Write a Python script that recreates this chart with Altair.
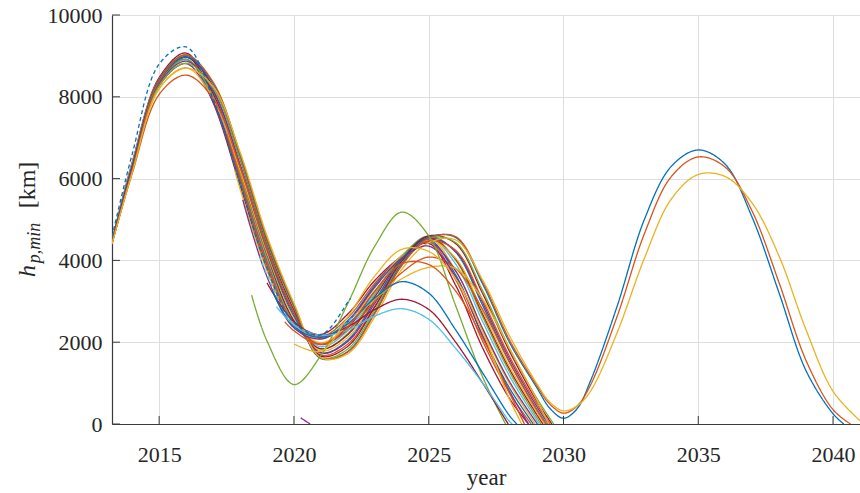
import math
import altair as alt
import pandas as pd

# MATLAB default colour order
BLUE, ORANGE, YELLOW, PURPLE = "#0072BD", "#D95319", "#EDB120", "#7E2F8E"
GREEN, CYAN, RED = "#77AC30", "#4DBEEE", "#A2142F"
AXIS_COLOR = "#3a3a3a"
TEXT_COLOR = "#262626"
FONT = "Liberation Serif, DejaVu Serif, serif"

X_TICKS = [2015, 2020, 2025, 2030, 2035, 2040]
Y_TICKS = [0, 2000, 4000, 6000, 8000, 10000]

# Minimum perigee altitude [km]; first sample at the given start year,
# then one sample per calendar year; the last pair is where a trace stops.
b00 = [4480, 6400, 8470, 9070, 7860, 5835, 3785, 2470, 2190, 2690, 3510, 4095, 4415, 3390, 1860, 620]
b01 = [4470, 6375, 8425, 9020, 7900, 5925, 3875, 2505, 2140, 2600, 3440, 4100, 4460, 3525, 2025, 760]
b02 = [4460, 6335, 8350, 8920, 7880, 5955, 3920, 2510, 2090, 2530, 3390, 4110, 4505, 3645, 2160, 875]
b03 = [4440, 6360, 8425, 9020, 7970, 6025, 3970, 2485, 1990, 2425, 3335, 4125, 4555, 3750, 2285, 980]
b04 = [4430, 6290, 8270, 8810, 7885, 6025, 4005, 2495, 1940, 2355, 3245, 4030, 4450, 3740, 2335, 1035]
b05 = [4450, 6335, 8400, 8990, 8020, 6120, 4060, 2480, 1890, 2285, 3215, 4090, 4570, 3910, 2505, 1170, 100]
b06 = [4420, 6305, 8345, 8910, 8015, 6155, 4110, 2500, 1840, 2215, 3165, 4090, 4595, 4005, 2620, 1270, 170]
b07 = [4450, 6315, 8390, 8970, 8080, 6215, 4155, 2530, 1840, 2185, 3110, 4035, 4540, 4030, 2690, 1340, 240]
b08 = [4410, 6215, 8195, 8710, 7965, 6200, 4185, 2600, 1790, 2120, 3035, 3980, 4490, 4050, 2750, 1400, 300]
b09 = [4440, 6300, 8425, 9020, 8180, 6330, 4255, 2640, 1740, 2055, 3010, 4030, 4590, 4200, 2900, 1515, 370]
b10 = [4420, 6235, 8315, 8870, 8130, 6350, 4295, 2700, 1740, 2020, 2950, 3970, 4535, 4225, 2970, 1590, 440]
b11 = [4420, 6125, 8060, 8530, 7955, 6290, 4300, 2730, 1690, 1955, 2880, 3920, 4480, 4245, 3030, 1650, 500]
b12 = [4440, 6235, 8385, 8970, 8260, 6480, 4400, 2790, 1660, 1900, 2860, 3980, 4600, 4410, 3190, 1775, 570]
b13 = [4410, 6175, 8275, 8820, 8215, 6500, 4445, 2850, 1620, 1835, 2790, 3925, 4545, 4435, 3260, 1845, 640]

# Orbits that survive the 2030 minimum (denser sampling around the minimum)
LONG_YEARS = [2013.25, 2014, 2015, 2016, 2017, 2018, 2019, 2020, 2021, 2022, 2023, 2024, 2025, 2026,
              2027, 2028, 2029, 2029.5, 2030, 2030.5, 2031, 2032, 2033, 2034, 2035, 2036, 2037, 2038,
              2039, 2040, 2041]
long_blue = [4430, 6215, 8385, 8970, 8330, 6585, 4495, 2890, 1600, 1775, 2725, 3905, 4560, 4560, 3425,
             1990, 900, 380, 140, 370, 1050, 2900, 5000, 6300, 6700, 6350, 5050, 3200, 1300, 250]
long_orange = [4420, 6200, 8390, 9020, 8360, 6620, 4540, 2920, 1620, 1760, 2700, 3870, 4540, 4580, 3480,
               2050, 950, 480, 265, 435, 950, 2650, 4650, 6050, 6530, 6280, 5200, 3450, 1550, 350]
long_yellow = [4400, 6150, 8200, 8700, 8250, 6650, 4600, 2950, 1620, 1720, 2620, 3780, 4430, 4500, 3520,
               2150, 1000, 530, 320, 440, 800, 2250, 4050, 5500, 6100, 6050, 5400, 4100, 2300, 800, 80]

# Traces that start later or end early
dash_blue = [4580, 6600, 8800, 9220, 7950, 5880, 3800, 2480, 2180, 2980]
dash_cyan = [4090, 3650, 2420, 2120, 2500]
late_yellow = [6210, 5750, 3750, 2450, 2080, 2450, 3050, 3550, 3830, 3800, 3050, 1850, 600]
late_purple = [5480, 3600, 2350, 2080, 2500, 3350, 4050, 4350, 3600, 2150, 800]
late_green = [3150, 2030, 965, 1680, 2950, 4350, 5180, 4600, 2890, 1150]
late_red = [3450, 2500, 2170, 2380, 2800, 3050, 2800, 2000, 1000]
late_blue = [3250, 2380, 2120, 2450, 3080, 3480, 3200, 2300, 1250, 200]
late_cyan = [2870, 2430, 2170, 2300, 2640, 2820, 2560, 1850, 1000, 60]
late_orange = [2500, 2280, 1950, 2380, 3250, 3920, 3900, 3250, 2100, 750]
late_yellow2 = [1960, 1780, 2620, 3620, 4270, 4220, 3550, 2250, 600]
mid_orange = [7100, 6050, 3950, 2450, 1950, 2300, 3000, 3700, 4080, 3800, 2800, 1500, 350]
short_purple = [150]

# name, first sample year (or explicit year list), samples, final point
CURVES = [
    ("b00", 2013.25, b00, (2028.70, 0)),
    ("b01", 2013.25, b01, (2028.80, 0)),
    ("b02", 2013.25, b02, (2028.88, 0)),
    ("b03", 2013.25, b03, (2028.95, 0)),
    ("b04", 2013.25, b04, (2029.03, 0)),
    ("b05", 2013.25, b05, (2029.10, 0)),
    ("b06", 2013.25, b06, (2029.17, 0)),
    ("b07", 2013.25, b07, (2029.24, 0)),
    ("b08", 2013.25, b08, (2029.30, 0)),
    ("b09", 2013.25, b09, (2029.37, 0)),
    ("b10", 2013.25, b10, (2029.44, 0)),
    ("b11", 2013.25, b11, (2029.50, 0)),
    ("b12", 2013.25, b12, (2029.57, 0)),
    ("b13", 2013.25, b13, (2029.64, 0)),
    ("long_blue", LONG_YEARS, long_blue, (2040.40, 0)),
    ("long_orange", LONG_YEARS, long_orange, (2040.65, 0)),
    ("long_yellow", LONG_YEARS, long_yellow, None),
    ("mid_orange", 2017.5, mid_orange, (2029.35, 0)),
    ("late_yellow", 2017.8, late_yellow, (2029.45, 0)),
    ("late_purple", 2018.1, late_purple, (2028.70, 0)),
    ("late_green", 2018.43, late_green, (2027.85, 0)),
    ("dash_cyan", 2018.73, dash_cyan, (2022.3, 2700)),
    ("late_red", 2019.0, late_red, (2027.95, 0)),
    ("late_blue", 2019.2, late_blue, (2028.27, 0)),
    ("late_cyan", 2019.35, late_cyan, (2028.10, 0)),
    ("late_orange", 2019.66, late_orange, (2028.55, 0)),
    ("late_yellow2", 2020.0, late_yellow2, (2028.45, 0)),
    ("short_purple", 2020.25, short_purple, (2020.60, 0)),
    ("dash_blue", 2013.25, dash_blue, (2022.10, 3070)),
]

STYLE = {
    "b00": (RED, "solid"), "b01": (ORANGE, "solid"), "b02": (BLUE, "solid"),
    "b03": (YELLOW, "solid"), "b04": (PURPLE, "solid"), "b05": (CYAN, "solid"),
    "b06": (GREEN, "solid"), "b07": (RED, "solid"), "b08": (YELLOW, "solid"),
    "b09": (BLUE, "solid"), "b10": (PURPLE, "solid"), "b11": (ORANGE, "solid"),
    "b12": (RED, "solid"), "b13": (GREEN, "solid"),
    "long_blue": (BLUE, "solid"), "long_orange": (ORANGE, "solid"), "long_yellow": (YELLOW, "solid"),
    "mid_orange": (ORANGE, "solid"), "late_yellow": (YELLOW, "solid"), "late_purple": (PURPLE, "solid"),
    "late_green": (GREEN, "solid"), "dash_cyan": (CYAN, "dashed"), "late_red": (RED, "solid"),
    "late_blue": (BLUE, "solid"), "late_cyan": (CYAN, "solid"), "late_orange": (ORANGE, "solid"),
    "late_yellow2": (YELLOW, "solid"), "short_purple": (PURPLE, "solid"), "dash_blue": (BLUE, "dashed"),
}

rows = []
for order, (name, first, vals, end) in enumerate(CURVES):
    if isinstance(first, list):
        years = first[:len(vals)]
    else:
        years = [first]
        nxt = math.floor(first) + 1
        for _ in vals[1:]:
            years.append(nxt)
            nxt += 1
    pts = list(zip(years, vals))
    if end is not None:
        pts.append(end)
    color, dash = STYLE[name]
    for i, (yr, hp) in enumerate(pts):
        rows.append({"curve": f"{order:02d}_{name}", "year": yr, "hp": hp,
                     "seq": i, "color": color, "dash": dash})
df = pd.DataFrame(rows)

x_scale = alt.Scale(domain=[2013.25, 2041.0], nice=False, zero=False)
y_scale = alt.Scale(domain=[0, 10000], nice=False, zero=False)

lines = alt.Chart(df).mark_line(
    interpolate="catmull-rom", strokeWidth=1.3, clip=True
).encode(
    x=alt.X("year:Q", scale=x_scale, title="year",
            axis=alt.Axis(values=X_TICKS, format="d", ticks=False, labelPadding=20,
                          titlePadding=1, grid=True, labelFlush=False)),
    y=alt.Y("hp:Q", scale=y_scale, title=None,
            axis=alt.Axis(values=Y_TICKS, format="d", ticks=False, labelPadding=10,
                          grid=True, labelFlush=False)),
    color=alt.Color("color:N", scale=None),
    strokeDash=alt.StrokeDash("dash:N", legend=None,
                              scale=alt.Scale(domain=["solid", "dashed"], range=[[1, 0], [4, 3]])),
    detail="curve:N",
    order="seq:Q",
)

# inward-pointing tick marks
x_tick_marks = alt.Chart(pd.DataFrame({"year": X_TICKS})).mark_rule(
    color=AXIS_COLOR, strokeWidth=1
).encode(x=alt.X("year:Q", scale=x_scale), y=alt.value(409), y2=alt.value(401))

y_tick_marks = alt.Chart(pd.DataFrame({"hp": Y_TICKS})).mark_rule(
    color=AXIS_COLOR, strokeWidth=1
).encode(y=alt.Y("hp:Q", scale=y_scale), x=alt.value(0), x2=alt.value(8))

# y-axis title: h_{p,min} [km]
def title_piece(text, size, italic, x, y):
    return alt.Chart(pd.DataFrame({"t": [text]})).mark_text(
        angle=270, font=FONT, fontSize=size, fontStyle="italic" if italic else "normal",
        color=TEXT_COLOR, align="center", baseline="alphabetic"
    ).encode(text="t:N", x=alt.value(x), y=alt.value(y))

y_title = (title_piece("h", 24, True, -77, 256)
           + title_piece("p,min", 18, True, -72, 228)
           + title_piece("[km]", 24, False, -77, 170))

chart = alt.layer(lines, x_tick_marks, y_tick_marks, y_title).properties(
    width=748, height=409,
    padding={"left": 112, "top": 15, "right": 0, "bottom": 69},
    autosize="none",
).configure_view(
    stroke="transparent"
).configure_axis(
    labelFont=FONT, labelFontSize=22, labelColor=TEXT_COLOR,
    titleFont=FONT, titleFontSize=23, titleFontWeight="normal", titleColor=TEXT_COLOR,
    domainColor=AXIS_COLOR, domainWidth=1.2,
    gridColor="#dedede", gridWidth=1,
)

chart.save("out.html", embed_options={"renderer": "svg", "actions": False})
